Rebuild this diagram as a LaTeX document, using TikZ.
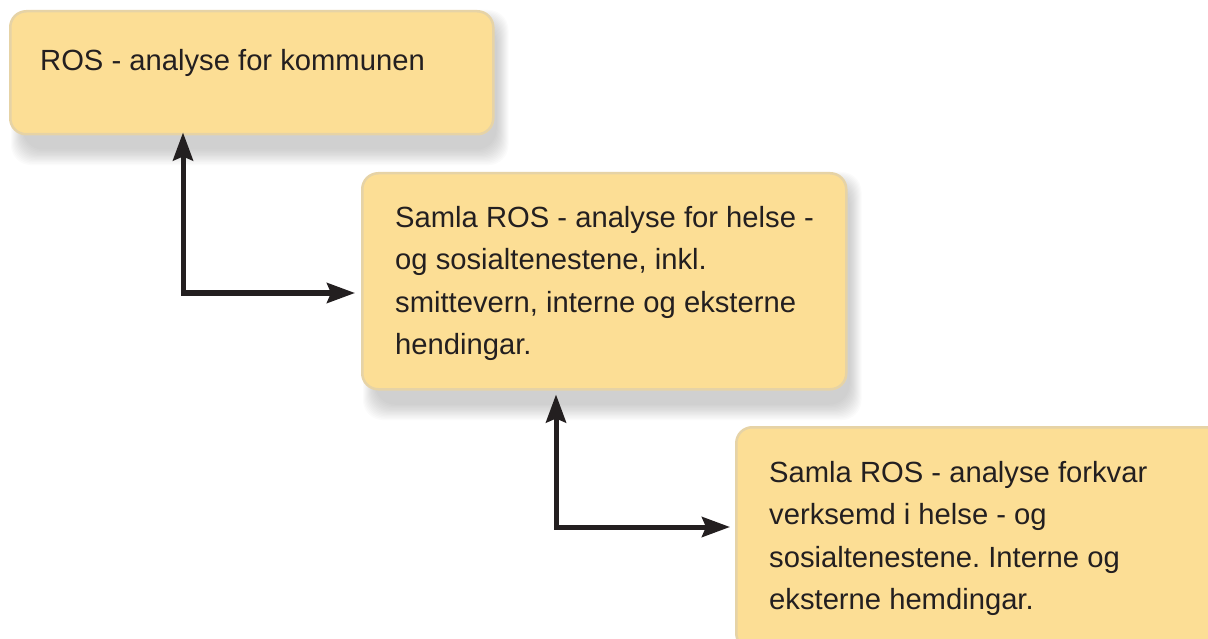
\documentclass[tikz,border=0pt]{standalone}
\usepackage{fontspec}
\setmainfont{Liberation Sans}
\usetikzlibrary{arrows.meta,backgrounds,calc}
\definecolor{boxfill}{HTML}{FCDE95}
\definecolor{boxedge}{HTML}{E6D3A6}
\definecolor{ink}{HTML}{231F20}
\tikzset{
  box/.style={rectangle, rounded corners=16pt, fill=boxfill, draw=boxedge, line width=2.5pt, inner sep=0pt, anchor=north west},
  txt/.style={anchor=north west, inner sep=0pt, align=left, font=\frenchspacing\fontsize{29.2pt}{42.6pt}\selectfont, text=ink},
  conn/.style={line width=5pt, draw=ink, line join=miter,
    {Stealth[length=28pt,width=20pt,inset=4pt]}-{Stealth[length=28pt,width=20pt,inset=4pt]}},
  shade/.style={fill=black, opacity=0.016, rounded corners=20pt}
}
\begin{document}
\begin{tikzpicture}[x=1pt,y=-1pt]
\useasboundingbox (0,0) rectangle (1208,639);
\node[box, minimum width=483pt, minimum height=123pt] (b1) at (9,10) {};
\node[box, minimum width=484pt, minimum height=216pt] (b2) at (361,172) {};
\node[box, minimum width=495pt, minimum height=222pt] (b3) at (735,426) {};
\begin{pgfonlayer}{background}
  \foreach \b in {b1,b2,b3}{
    \foreach \i in {0,...,12}{
      \fill[shade] ($(\b.north west)+(14-\i,12-\i)$) rectangle ($(\b.south east)+(2+\i,14+1.3*\i)$);
    }
  }
\end{pgfonlayer}
\node[txt] (t1) at (40,48.7) {ROS - analyse for kommunen};
\node[txt] (t2) at (395,205.7) {Samla ROS - analyse for helse -\\og sosialtenestene, inkl.\\smittevern, interne og eksterne\\hendingar.};
\node[txt] (t3) at (769,460.7) {Samla ROS - analyse forkvar\\verksemd i helse - og\\sosialtenestene. Interne og\\eksterne hemdingar.};
\coordinate (c1) at (183,293);
\coordinate (c2) at (556,527);
\draw[conn, shorten <=-3pt, shorten >=6pt] (c1 |- b1.south) -- (c1) -- (b2.west |- c1);
\draw[conn, shorten <=4pt, shorten >=5pt] (c2 |- b2.south) -- (c2) -- (b3.west |- c2);
\end{tikzpicture}
\end{document}
